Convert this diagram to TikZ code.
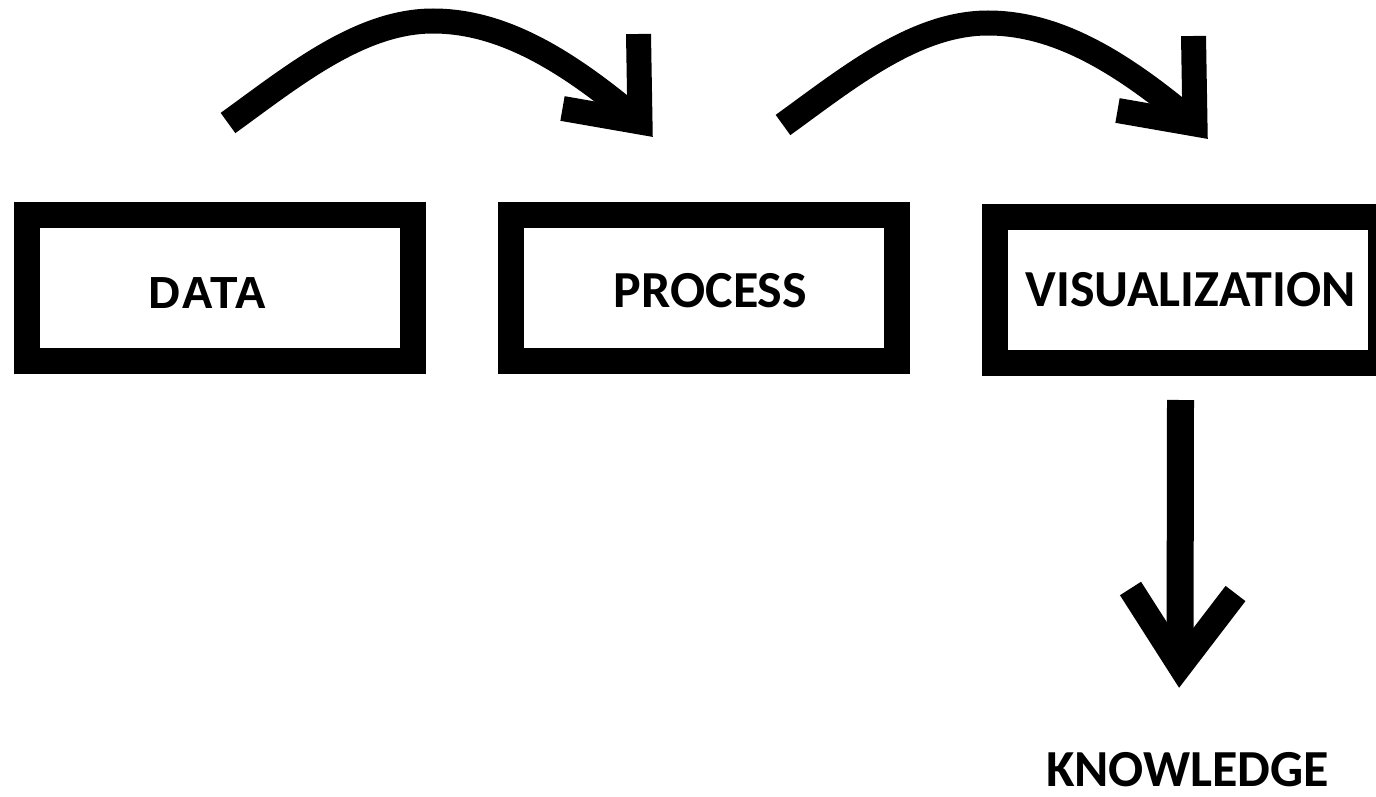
\documentclass[tikz,border=0pt]{standalone}
\usepackage{fontspec}
\newfontfamily\calibrifont{Carlito}
\newfontfamily\arialfont{Liberation Sans}
\begin{document}
\begin{tikzpicture}[x=1pt,y=-1pt,
  box/.style={draw=black,line width=26pt,inner sep=0pt,outer sep=0pt,minimum width=386pt,minimum height=146pt},
  lbl/.style={anchor=base,inner sep=0pt,font=\calibrifont\bfseries\fontsize{52}{60}\selectfont},
  thickarrow/.style={draw=black,line width=25pt,line join=miter,line cap=butt}]
\useasboundingbox (0,0) rectangle (1376,797);
\clip (0,0) rectangle (1376,797);
% boxes
\node[box] (data) at (220,288) {};
\node[box] (process) at (703.5,288) {};
\node[box] (vis) at (1188,290) {};
% labels
\node[lbl,font=\arialfont\bfseries\fontsize{45}{54}\selectfont] (tdata) at (208,308) {DATA};
\node[lbl] (tproc) at (710.5,307) {PROCESS};
\node[lbl] (tvis) at (1190.5,306) {VISUALIZATION};
\node[lbl] (tknow) at (1187.5,786) {KNOWLEDGE};
% arrow 1
\coordinate (a1s) at (228,123);
\coordinate (a1p) at (433,21);
\coordinate (a1c) at (640,122);
\coordinate (a1u) at (638.5,34);
\coordinate (a1l) at (562.5,108.5);
\draw[thickarrow] (a1s) .. controls (293,76) and (360,21) .. (a1p) .. controls (505,21) and (571,63.7) .. (a1c);
\draw[thickarrow] (a1l) -- (a1c) -- (a1u);
% arrow 2
\coordinate (a2s) at (783,125);
\coordinate (a2p) at (988,23);
\coordinate (a2c) at (1195,124);
\coordinate (a2u) at (1193.5,36);
\coordinate (a2l) at (1117.5,110.5);
\draw[thickarrow] (a2s) .. controls (848,78) and (915,23) .. (a2p) .. controls (1060,23) and (1126,65.7) .. (a2c);
\draw[thickarrow] (a2l) -- (a2c) -- (a2u);
% arrow 3
\coordinate (a3t) at (1180.5,400);
\coordinate (a3c) at (1180,666);
\coordinate (a3l) at (1130.5,588.5);
\coordinate (a3r) at (1235.5,593.5);
\draw[thickarrow,line width=27pt] (a3t) -- (a3c);
\draw[thickarrow] (a3l) -- (a3c) -- (a3r);
\end{tikzpicture}
\end{document}
